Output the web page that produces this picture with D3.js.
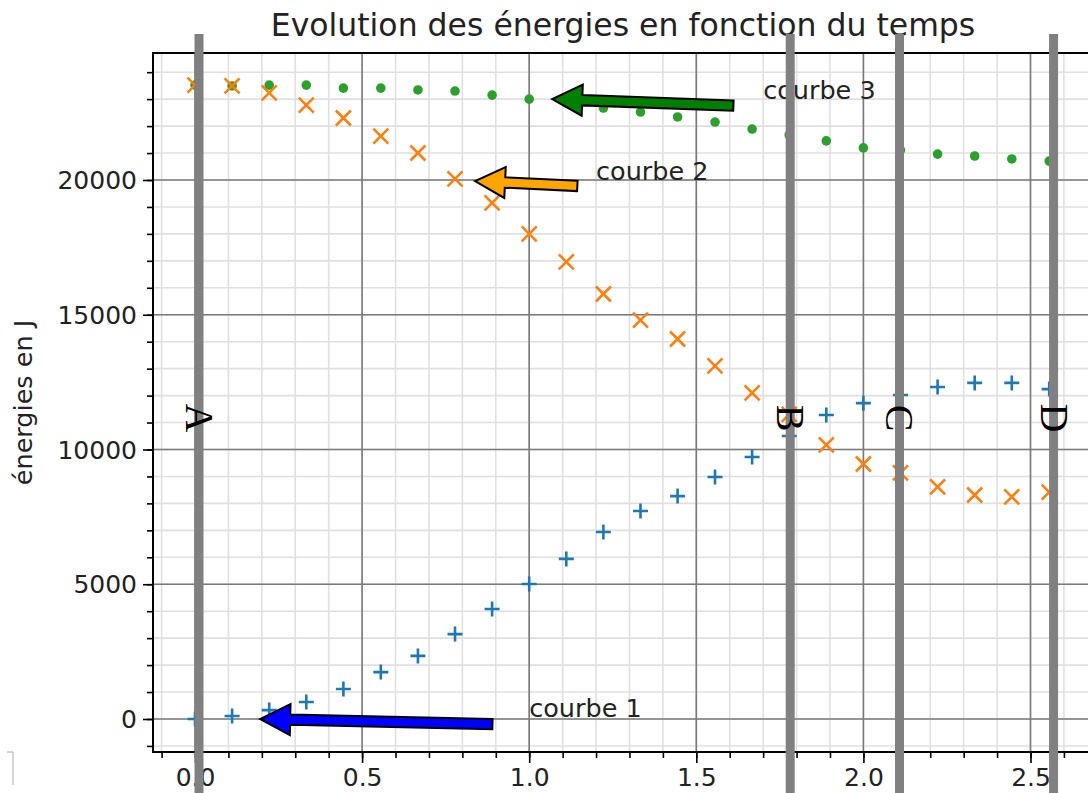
<!DOCTYPE html>
<html>
<head>
<meta charset="utf-8">
<script src="https://cdn.jsdelivr.net/npm/d3@7"></script>
<style>
  body { margin: 0; background: #fff; }
  text { font-family: "DejaVu Sans", sans-serif; }
</style>
</head>
<body>
<div id="chart"></div>
<script>
// temps (s)
const times = [0, 0.111, 0.222, 0.333, 0.444, 0.556, 0.667, 0.778, 0.889, 1.0, 1.111, 1.222,
  1.333, 1.444, 1.556, 1.667, 1.778, 1.889, 2.0, 2.111, 2.222, 2.333, 2.444, 2.556];

const courbe1 = [0, 110, 330, 630, 1110, 1740, 2340, 3150, 4080, 5010, 5940, 6940,
  7720, 8270, 8980, 9720, 10500, 11280, 11720, 12020, 12320, 12470, 12470, 12240];
const courbe2 = [23520, 23490, 23230, 22780, 22300, 21630, 21000, 20040, 19150, 18000, 16960, 15770,
  14800, 14100, 13100, 12100, 11300, 10170, 9460, 9130, 8610, 8310, 8240, 8420];
const courbe3 = [23520, 23490, 23520, 23520, 23410, 23410, 23340, 23300, 23150, 23000, 22860, 22670,
  22520, 22340, 22150, 21890, 21670, 21450, 21190, 21110, 20960, 20890, 20780, 20700];

const xTickLabels = ["0.0", "0.5", "1.0", "1.5", "2.0", "2.5"];
const yTickLabels = ["0", "5000", "10000", "15000", "20000"];

// vertical markers A..D
const markerLabels = ["A", "B", "C", "D"];
const markerTimes = [0.012, 1.781, 2.108, 2.569];

// annotations: text, text position, arrow tail -> tip
const noteTexts = ["courbe 1", "courbe 2", "courbe 3"];
const noteAt = [[1.0, 70], [1.2, 20000], [1.7, 23000]];
const arrowFrom = [[0.89, -190], [1.144, 19780], [1.611, 22760]];
const arrowTo = [[0.195, 0], [0.838, 19960], [1.069, 23000]];
const arrowColors = ["#0000ff", "#ffa500", "#008000"];

const W = 1088, H = 793;
const margin = { top: 53, left: 153 };
const width = 941, height = 699;

const svg = d3
  .select("#chart")
  .append("svg")
  .attr("width", W)
  .attr("height", H);

const x = d3.scaleLinear().domain([-0.1257, 2.69]).range([margin.left, margin.left + width]);
const y = d3.scaleLinear().domain([-1225, 24712]).range([margin.top + height, margin.top]);

svg.append("clipPath").attr("id", "clip")
  .append("rect")
  .attr("x", margin.left).attr("y", margin.top)
  .attr("width", width).attr("height", height);

// grid
const xMinor = d3.range(-1, 27).map((i) => i / 10);
const xMajor = xTickLabels.map(Number);
const yMinor = d3.range(-1, 25).map((i) => i * 1000);
const yMajor = yTickLabels.map(Number);

const grid = svg.append("g").attr("clip-path", "url(#clip)");
grid.selectAll(".xminor").data(xMinor).join("line")
  .attr("x1", (d) => x(d)).attr("x2", (d) => x(d))
  .attr("y1", margin.top).attr("y2", margin.top + height)
  .attr("stroke", "#e0e0e0").attr("stroke-width", 1.6);
grid.selectAll(".yminor").data(yMinor).join("line")
  .attr("y1", (d) => y(d)).attr("y2", (d) => y(d))
  .attr("x1", margin.left).attr("x2", margin.left + width)
  .attr("stroke", "#e0e0e0").attr("stroke-width", 1.6);
grid.selectAll(".xmajor").data(xMajor).join("line")
  .attr("x1", (d) => x(d)).attr("x2", (d) => x(d))
  .attr("y1", margin.top).attr("y2", margin.top + height)
  .attr("stroke", "#7a7a7a").attr("stroke-width", 1.6);
grid.selectAll(".ymajor").data(yMajor).join("line")
  .attr("y1", (d) => y(d)).attr("y2", (d) => y(d))
  .attr("x1", margin.left).attr("x2", margin.left + width)
  .attr("stroke", "#7a7a7a").attr("stroke-width", 1.6);

// axes
const xAxisMinor = d3.axisBottom(x).tickValues(xMinor).tickSize(6).tickFormat("");
const xAxisMajor = d3.axisBottom(x).tickValues(xMajor).tickSize(11).tickPadding(5)
  .tickFormat((d, i) => xTickLabels[i]);
const yAxisMinor = d3.axisLeft(y).tickValues(yMinor).tickSize(6).tickFormat("");
const yAxisMajor = d3.axisLeft(y).tickValues(yMajor).tickSize(10).tickPadding(6)
  .tickFormat((d, i) => yTickLabels[i]);

function styleAxis(g) {
  g.select(".domain").remove();
  g.selectAll("line").attr("stroke", "#000").attr("stroke-width", 1.6);
  g.selectAll("text").attr("fill", "#222").style("font-size", "25px")
    .style("font-family", "DejaVu Sans");
}

svg.append("g").attr("transform", `translate(0,${margin.top + height})`)
  .call(xAxisMinor).call(styleAxis);
svg.append("g").attr("transform", `translate(0,${margin.top + height})`)
  .call(xAxisMajor).call(styleAxis);
svg.append("g").attr("transform", `translate(${margin.left},0)`)
  .call(yAxisMinor).call(styleAxis);
svg.append("g").attr("transform", `translate(${margin.left},0)`)
  .call(yAxisMajor).call(styleAxis)
  .selectAll("text").attr("dy", "0.35em");

// spines
svg.append("path")
  .attr("d", `M${margin.left + width},${margin.top}H${margin.left}V${margin.top + height}H${margin.left + width}`)
  .attr("fill", "none").attr("stroke", "#000").attr("stroke-width", 2);

// series
const pts = times.map((t, i) => ({ t, a: courbe1[i], b: courbe2[i], c: courbe3[i] }));
const marks = svg.append("g").attr("clip-path", "url(#clip)");

marks.selectAll(".c3").data(pts).join("circle")
  .attr("cx", (d) => x(d.t)).attr("cy", (d) => y(d.c))
  .attr("r", 4.8).attr("fill", "#2ca02c");

marks.selectAll(".c2").data(pts).join("path")
  .attr("d", (d) => {
    const cx = x(d.t), cy = y(d.b), s = 7.5;
    return `M${cx - s},${cy - s}L${cx + s},${cy + s}M${cx - s},${cy + s}L${cx + s},${cy - s}`;
  })
  .attr("stroke", "#ff7f0e").attr("stroke-width", 2.6).attr("fill", "none");

marks.selectAll(".c1").data(pts).join("path")
  .attr("d", (d) => {
    const cx = x(d.t), cy = y(d.a), s = 7.5;
    return `M${cx - s},${cy}H${cx + s}M${cx},${cy - s}V${cy + s}`;
  })
  .attr("stroke", "#1f77b4").attr("stroke-width", 2.6).attr("fill", "none");

// arrows
function arrowPath(from, to) {
  const x0 = x(from[0]), y0 = y(from[1]);
  const x1 = x(to[0]), y1 = y(to[1]);
  const len = Math.hypot(x1 - x0, y1 - y0);
  const ux = (x1 - x0) / len, uy = (y1 - y0) / len;
  const nx = -uy, ny = ux;
  const sw = 5.2, hw = 15.5, hl = 30;
  const bx = x1 - ux * hl, by = y1 - uy * hl;
  const p = [
    [x0 + nx * sw, y0 + ny * sw],
    [bx + nx * sw, by + ny * sw],
    [bx + nx * hw, by + ny * hw],
    [x1, y1],
    [bx - nx * hw, by - ny * hw],
    [bx - nx * sw, by - ny * sw],
    [x0 - nx * sw, y0 - ny * sw],
  ];
  return "M" + p.map((q) => q.join(",")).join("L") + "Z";
}

svg.append("g").selectAll("path").data(arrowFrom).join("path")
  .attr("d", (d, i) => arrowPath(d, arrowTo[i]))
  .attr("fill", (d, i) => arrowColors[i])
  .attr("stroke", "#000").attr("stroke-width", 2).attr("stroke-linejoin", "miter");

svg.append("g").selectAll("text").data(noteTexts).join("text")
  .attr("x", (d, i) => x(noteAt[i][0]))
  .attr("y", (d, i) => y(noteAt[i][1]))
  .attr("fill", "#222").style("font-size", "25.5px")
  .text((d) => d);

// title and y label
svg.append("text")
  .attr("x", 623).attr("y", 36)
  .attr("text-anchor", "middle").attr("fill", "#222")
  .style("font-size", "31.5px")
  .text("Evolution des énergies en fonction du temps");

svg.append("text")
  .attr("transform", `translate(32,${margin.top + height / 2}) rotate(-90)`)
  .attr("text-anchor", "middle").attr("fill", "#222")
  .style("font-size", "25.5px")
  .text("énergies en J");

// vertical gray lines with letters
svg.append("g").selectAll("line").data(markerTimes).join("line")
  .attr("x1", (d) => x(d)).attr("x2", (d) => x(d))
  .attr("y1", 34).attr("y2", H)
  .attr("stroke", "#808080").attr("stroke-width", 9);

svg.append("g").selectAll("text").data(markerLabels).join("text")
  .attr("transform", (d, i) => `translate(${x(markerTimes[i])},418) rotate(90)`)
  .attr("text-anchor", "middle")
  .attr("y", 13)
  .attr("fill", "#000")
  .style("font-family", "Liberation Serif")
  .style("font-size", "40px")
  .text((d) => d);

// small bracket mark at bottom left
svg.append("path")
  .attr("d", "M7,752H13V785")
  .attr("fill", "none").attr("stroke", "#aaa").attr("stroke-width", 1);
</script>
</body>
</html>
